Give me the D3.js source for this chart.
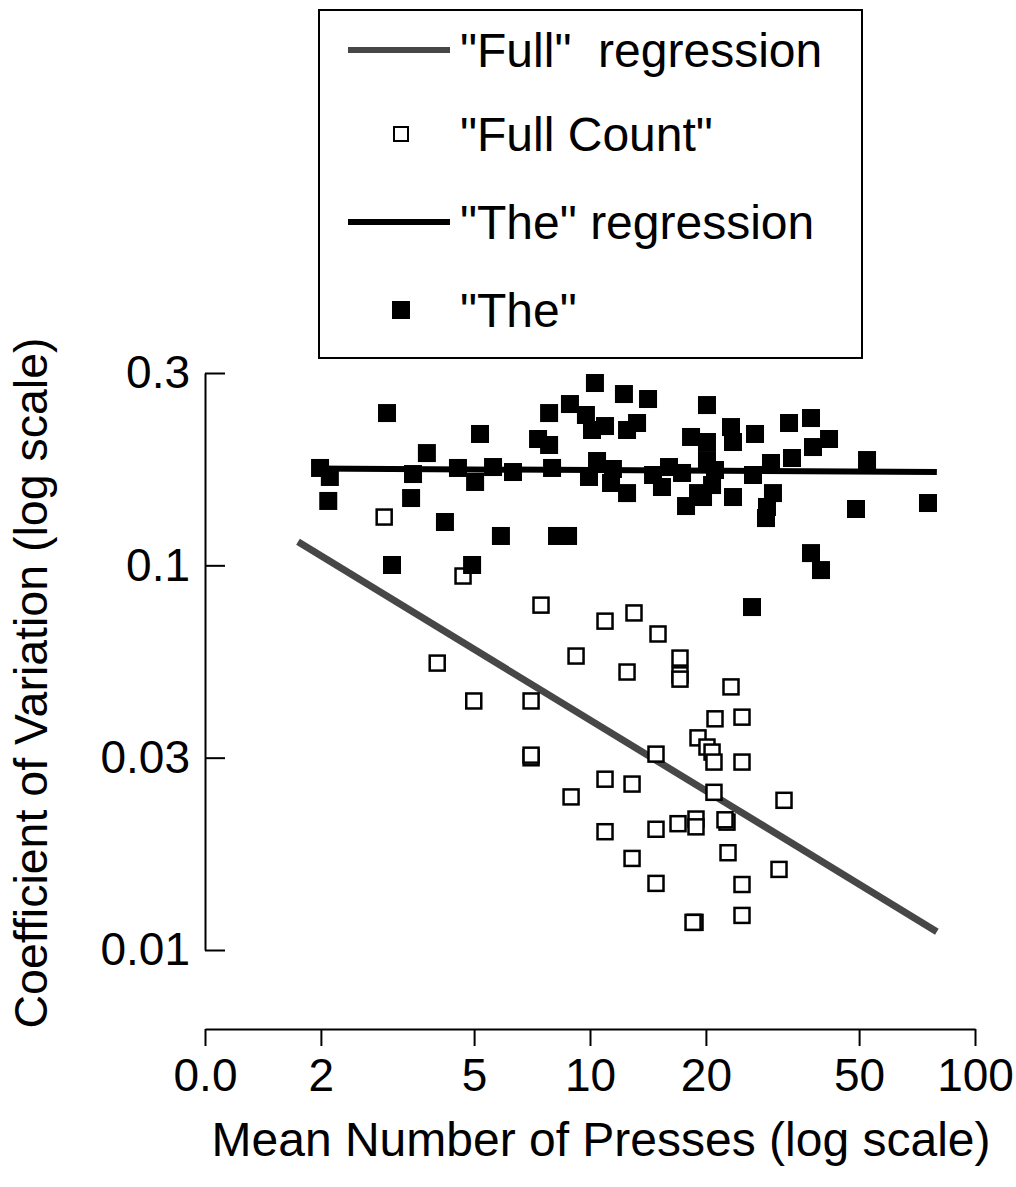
<!DOCTYPE html>
<html><head><meta charset="utf-8">
<script src="https://cdn.jsdelivr.net/npm/d3@7"></script>
<style>
body{margin:0;background:#fff}
svg{display:block}
text{font-family:"Liberation Sans",Arial,Helvetica,sans-serif;fill:#000}
</style>
</head><body>
<svg id="chart" width="1016" height="1187"></svg>
<script>
// ---- axis ticks ----
const xTickValues = [1, 2, 5, 10, 20, 50, 100];
const xTickLabels = ["0.0", "2", "5", "10", "20", "50", "100"];
const yTickValues = [0.3162, 0.1, 0.03162, 0.01];
const yTickLabels = ["0.3", "0.1", "0.03", "0.01"];

// ---- "The" (filled squares) ----
const theX = [1.99,2.11,2.09,2.97,3.06,3.43,3.47,3.77,4.20,4.54,4.94,5.03,5.18,5.60,5.87,6.31,7.33,7.83,7.83,7.97,
  8.21,8.77,8.87,9.76,9.94,10.43,10.30,10.12,10.94,12.25,14.15,12.48,13.25,11.47,11.34,12.48,14.58,16.04,15.38,17.34,
  18.30,20.13,19.08,17.76,20.13,20.13,21.12,20.75,19.66,23.24,23.52,26.83,32.88,37.50,37.95,41.77,23.52,26.51,29.52,33.47,
  29.87,28.82,28.65,52.43,49.08,75.49,37.50,39.81,26.35];
const theY = [0.1791,0.1697,0.1470,0.2488,0.1002,0.1496,0.1727,0.1958,0.1296,0.1791,0.1002,0.1647,0.2195,0.1801,0.1192,0.1748,0.2130,0.2055,0.2488,0.1791,
  0.1192,0.1192,0.2626,0.2459,0.1697,0.1867,0.2978,0.2248,0.2302,0.2788,0.2706,0.2248,0.2344,0.1780,0.1637,0.1541,0.1717,0.1801,0.1598,0.1738,
  0.2156,0.2610,0.1541,0.1426,0.2092,0.1878,0.1769,0.1617,0.1505,0.2288,0.2092,0.2195,0.2344,0.2415,0.2030,0.2130,0.1505,0.1717,0.1845,0.1901,
  0.1541,0.1418,0.1327,0.1878,0.1401,0.1452,0.1076,0.0972,0.0779];

// ---- "Full Count" (open squares) ----
const fullX = [2.92,4.68,7.46,10.94,13.01,15.02,4.01,9.20,12.48,17.13,17.13,17.13,23.24,4.99,7.03,21.12,24.82,19.08,20.13,20.75,
  20.99,24.82,14.84,7.03,7.03,10.94,12.86,8.93,20.99,31.91,10.94,14.84,16.93,18.85,18.85,22.69,22.42,12.86,22.83,30.97,
  14.84,24.82,24.82,18.74,18.52];
const fullY = [0.1335,0.0938,0.0788,0.0716,0.0752,0.0663,0.0557,0.0581,0.0528,0.0574,0.0519,0.0506,0.0483,0.0444,0.0444,0.0399,0.0403,0.0356,0.0337,0.0327,
  0.0308,0.0308,0.0323,0.0316,0.0321,0.0278,0.0270,0.0250,0.0257,0.0245,0.0203,0.0206,0.0213,0.0219,0.0209,0.0215,0.0218,0.0173,0.0179,0.0162,
  0.0149,0.0148,0.0123,0.0118,0.0118];

// ---- regression lines (end points) ----
const fullRegX = [1.744, 79.6];
const fullRegY = [0.1151, 0.01116];
const theRegX = [1.9, 79.6];
const theRegY = [0.1785, 0.1748];

const legendLabels = ['"Full"  regression', '"Full Count"', '"The" regression', '"The"'];
const xTitle = "Mean Number of Presses (log scale)";
const yTitle = "Coefficient of Variation (log scale)";

const svg = d3.select("#chart");
const x = d3.scaleLog().domain([1, 100]).range([205, 975]);
const y = d3.scaleLog().domain([0.01, 0.3162]).range([950, 373]);
const FS = 46;
const FONT = '"Liberation Sans",Arial,sans-serif';

// x axis
const xAxis = d3.axisBottom(x).tickValues(xTickValues)
  .tickFormat((d, i) => xTickLabels[i]).tickSizeInner(17).tickSizeOuter(0).tickPadding(12);
const gx = svg.append("g").attr("transform", "translate(0,1029)").call(xAxis);
gx.selectAll("path,line").attr("stroke", "#000").attr("stroke-width", 2);
gx.selectAll("text").attr("font-size", FS).attr("font-family", FONT).attr("fill", "#000");

// y axis (ticks inside)
const yAxis = d3.axisLeft(y).tickValues(yTickValues)
  .tickFormat((d, i) => yTickLabels[i]).tickSizeInner(-20).tickSizeOuter(0).tickPadding(15);
const gy = svg.append("g").attr("transform", "translate(205,0)").call(yAxis);
gy.selectAll("path,line").attr("stroke", "#000").attr("stroke-width", 2);
gy.selectAll("text").attr("font-size", FS).attr("font-family", FONT).attr("fill", "#000");

// titles
svg.append("text").attr("x", 601).attr("y", 1156).attr("text-anchor", "middle")
  .attr("font-size", 48).text(xTitle);
svg.append("text").attr("transform", "translate(47,683) rotate(-90)").attr("text-anchor", "middle")
  .attr("font-size", 46.5).text(yTitle);

const line = d3.line().x(d => x(d[0])).y(d => y(d[1]));

// Full regression
svg.append("path").datum(fullRegX.map((v, i) => [v, fullRegY[i]]))
  .attr("d", line).attr("stroke", "#474747").attr("stroke-width", 7).attr("fill", "none");

// open squares
const S = 17;
svg.append("g").selectAll("rect").data(fullX.map((v, i) => [v, fullY[i]])).join("rect")
  .attr("x", d => x(d[0]) - S / 2 + 1).attr("y", d => y(d[1]) - S / 2 + 1)
  .attr("width", S - 2).attr("height", S - 2)
  .attr("fill", "#fff").attr("stroke", "#000").attr("stroke-width", 2.5);

// The regression
svg.append("path").datum(theRegX.map((v, i) => [v, theRegY[i]]))
  .attr("d", line).attr("stroke", "#000").attr("stroke-width", 6).attr("fill", "none");

// filled squares
const F = 18;
svg.append("g").selectAll("rect").data(theX.map((v, i) => [v, theY[i]])).join("rect")
  .attr("x", d => x(d[0]) - F / 2).attr("y", d => y(d[1]) - F / 2)
  .attr("width", F).attr("height", F).attr("fill", "#000");

// legend
const lg = svg.append("g");
lg.append("rect").attr("x", 319).attr("y", 10).attr("width", 543).attr("height", 348)
  .attr("fill", "#fff").attr("stroke", "#000").attr("stroke-width", 2);
const rowY = [50, 134, 222, 310];
lg.append("line").attr("x1", 348).attr("x2", 450).attr("y1", rowY[0]).attr("y2", rowY[0])
  .attr("stroke", "#474747").attr("stroke-width", 6);
lg.append("rect").attr("x", 394).attr("y", rowY[1] - 7).attr("width", 14).attr("height", 14)
  .attr("fill", "#fff").attr("stroke", "#000").attr("stroke-width", 2);
lg.append("line").attr("x1", 348).attr("x2", 450).attr("y1", rowY[2]).attr("y2", rowY[2])
  .attr("stroke", "#000").attr("stroke-width", 6);
lg.append("rect").attr("x", 392).attr("y", rowY[3] - 9).attr("width", 18).attr("height", 18)
  .attr("fill", "#000");
lg.selectAll("text.lab").data(legendLabels).join("text").attr("class", "lab")
  .attr("x", 460).attr("y", (d, i) => rowY[i] + 17).attr("font-size", 48)
  .attr("xml:space", "preserve").style("white-space", "pre").text(d => d);
</script>
</body></html>
